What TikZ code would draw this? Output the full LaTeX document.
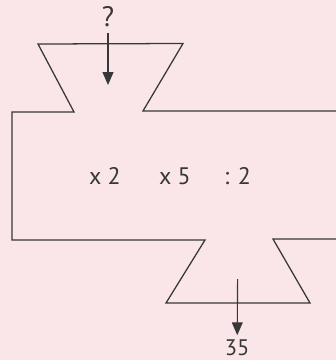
\documentclass[tikz,border=0pt]{standalone}
\usepackage{fontspec}
\setmainfont{PT Sans}
\usetikzlibrary{arrows.meta, positioning}
\definecolor{paperpink}{RGB}{250,230,232}
\definecolor{inkgray}{RGB}{55,55,55}

\begin{document}
\begin{tikzpicture}[
  outline/.style={draw=inkgray, line width=0.9pt, line join=miter},
  flow/.style={-{Triangle[length=3.2mm, width=2.7mm]}, draw=inkgray, fill=inkgray, line width=0.8pt},
  opnode/.style={font=\fontsize{17}{19}\selectfont, text=inkgray},
  ionode/.style={font=\fontsize{16}{18}\selectfont, text=inkgray, inner sep=1pt}
]
  % Fond
  \fill[paperpink] (0,0) rectangle (8.4,-9);
  \useasboundingbox (0,0) rectangle (8.4,-9);

  % Machine (corps et entonnoirs)
  \begin{scope}
    \clip (0,0) rectangle (8.4,-9);
    \draw[outline] (8.5,-2.775) -- (3.575,-2.775) -- (4.575,-1.0875) -- (0.95,-1.1)
      -- (1.85,-2.8) -- (0.3,-2.8) -- (0.3,-6.0) -- (5.125,-6.0) -- (4.15,-7.575)
      -- (7.75,-7.575) -- (6.825,-5.975) -- (8.5,-5.975);
  \end{scope}

  % Operations
  \node[opnode] (ops) at (4.25,-4.4) {x 2\hspace{1.6em}x 5\hspace{1.4em}: 2};

  % Entree et sortie
  \node[ionode, font=\fontsize{20}{22}\selectfont, anchor=south] (entree) at (2.7,-0.72) {?};
  \coordinate (fin) at (2.7,-2.125);
  \draw[flow, shorten <=3pt] (entree.south) -- (fin);

  \coordinate (debut) at (5.94,-6.975);
  \node[ionode, anchor=north] (sortie) at (5.93,-8.45) {35};
  \draw[flow, shorten >=2pt] (debut) -- (sortie.north);
\end{tikzpicture}
\end{document}
